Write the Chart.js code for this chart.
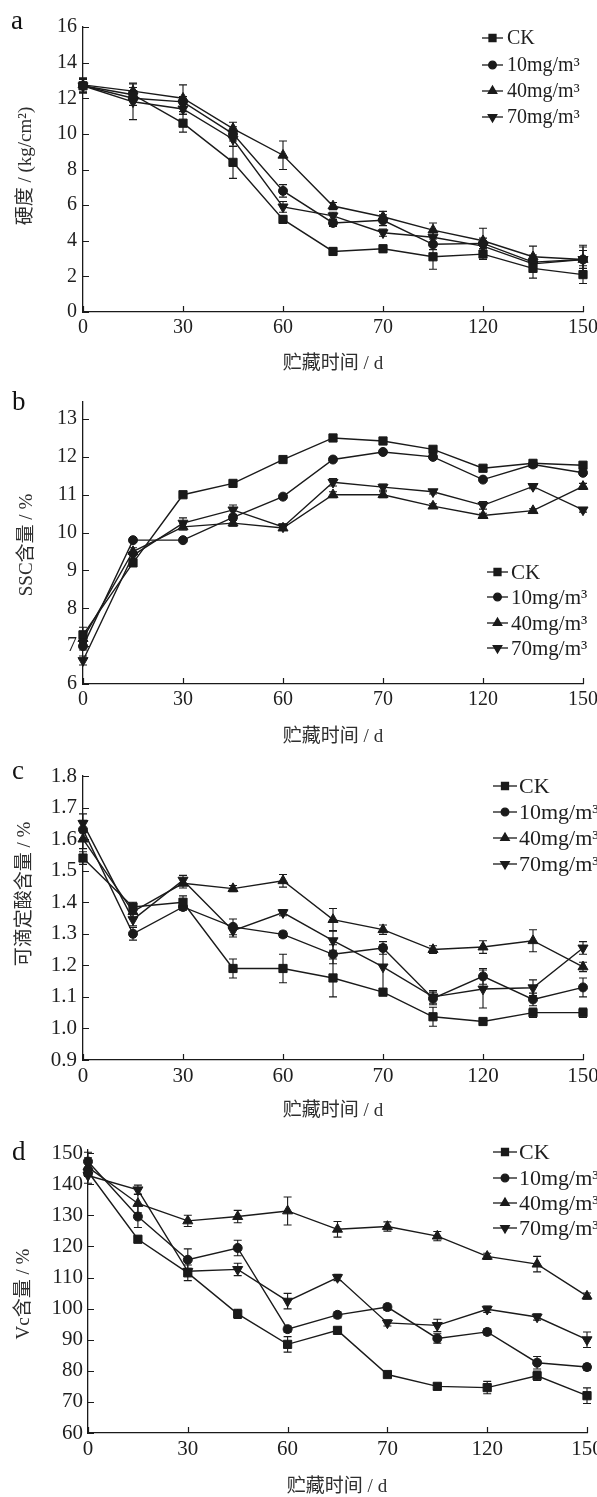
<!DOCTYPE html>
<html>
<head>
<meta charset="utf-8">
<script src="https://cdn.jsdelivr.net/npm/chart.js@4.4.0/dist/chart.umd.min.js"></script>
<style>
html, body { margin: 0; padding: 0; background: #fff; }
#page { position: relative; width: 597px; height: 1497px; overflow: hidden; }
.panel { position: absolute; left: 0; width: 597px; }
.panel canvas { display: block; }
</style>
</head>
<body>
<div id="page">
    <div class="panel" style="top:0px"><canvas id="hardness" width="597" height="380"></canvas></div>
    <div class="panel" style="top:378px"><canvas id="ssc" width="597" height="372"></canvas></div>
    <div class="panel" style="top:750px"><canvas id="acid" width="597" height="372"></canvas></div>
    <div class="panel" style="top:1122px"><canvas id="vc" width="597" height="375"></canvas></div>
</div>
<script>
// storage days (x) and the tick labels printed under the axis
const days = [0, 15, 30, 45, 60, 75, 90, 105, 120, 135, 150];
const xTickValues = [0, 30, 60, 90, 120, 150];
const xTickLabels = ['0', '30', '60', '70', '120', '150'];

const seriesNames = ['CK', '10mg/m³', '40mg/m³', '70mg/m³'];

// a - hardness
const hardnessCK = [12.7, 12.2, 10.6, 8.4, 5.2, 3.4, 3.55, 3.1, 3.25, 2.45, 2.1];
const hardness10 = [12.7, 12.0, 11.8, 10.0, 6.8, 5.0, 5.15, 3.8, 3.85, 2.8, 2.95];
const hardness40 = [12.75, 12.4, 12.0, 10.3, 8.8, 5.95, 5.35, 4.6, 4.0, 3.1, 2.95];
const hardness70 = [12.7, 11.8, 11.4, 9.7, 5.9, 5.4, 4.45, 4.2, 3.7, 2.7, 2.95];
const hardnessCKErr = [0.4, 0.4, 0.5, 0.9, 0.2, 0.2, 0.2, 0.7, 0.3, 0.55, 0.5];
const hardness10Err = [0.35, 0.4, 0.3, 0.4, 0.35, 0.2, 0.3, 0.3, 0.3, 0.4, 0.7];
const hardness40Err = [0.4, 0.45, 0.75, 0.35, 0.8, 0.2, 0.3, 0.4, 0.7, 0.6, 0.8];
const hardness70Err = [0.4, 1.0, 0.3, 0.4, 0.3, 0.2, 0.2, 0.3, 0.3, 0.4, 0.5];
const hardnessTicks = [0, 2, 4, 6, 8, 10, 12, 14, 16];

// b - SSC
const sscCK = [7.3, 9.2, 11.0, 11.3, 11.93, 12.5, 12.42, 12.2, 11.7, 11.83, 11.78];
const ssc10 = [7.0, 9.8, 9.8, 10.4, 10.95, 11.93, 12.13, 12.0, 11.4, 11.8, 11.58];
const ssc40 = [7.2, 9.5, 10.15, 10.25, 10.12, 11.0, 11.0, 10.7, 10.45, 10.58, 11.22];
const ssc70 = [6.62, 9.4, 10.25, 10.6, 10.15, 11.33, 11.2, 11.08, 10.72, 11.22, 10.6];
const sscCKErr = [0.2, 0.08, 0.05, 0.05, 0.06, 0.05, 0.05, 0.05, 0.05, 0.05, 0.05];
const ssc10Err = [0.1, 0.06, 0.05, 0.08, 0.05, 0.05, 0.05, 0.06, 0.05, 0.05, 0.06];
const ssc40Err = [0.12, 0.1, 0.08, 0.08, 0.06, 0.08, 0.08, 0.06, 0.06, 0.05, 0.08];
const ssc70Err = [0.12, 0.1, 0.14, 0.13, 0.08, 0.1, 0.08, 0.06, 0.1, 0.06, 0.06];
const sscTicks = [6, 7, 8, 9, 10, 11, 12, 13];

// c - titratable acid
const acidCK = [1.54, 1.385, 1.40, 1.19, 1.19, 1.16, 1.115, 1.037, 1.022, 1.05, 1.05];
const acid10 = [1.63, 1.30, 1.385, 1.322, 1.298, 1.235, 1.255, 1.095, 1.165, 1.092, 1.13];
const acid40 = [1.60, 1.37, 1.46, 1.443, 1.468, 1.345, 1.313, 1.25, 1.258, 1.278, 1.195];
const acid70 = [1.65, 1.345, 1.47, 1.31, 1.367, 1.278, 1.195, 1.10, 1.125, 1.129, 1.255];
const acidCKErr = [0.02, 0.015, 0.02, 0.03, 0.045, 0.06, 0.01, 0.03, 0.01, 0.015, 0.015];
const acid10Err = [0.03, 0.02, 0.01, 0.025, 0.01, 0.03, 0.02, 0.02, 0.025, 0.02, 0.03];
const acid40Err = [0.03, 0.02, 0.015, 0.01, 0.02, 0.035, 0.015, 0.012, 0.02, 0.035, 0.015];
const acid70Err = [0.03, 0.02, 0.015, 0.02, 0.01, 0.03, 0.07, 0.02, 0.06, 0.025, 0.02];
const acidTicks = [0.9, 1.0, 1.1, 1.2, 1.3, 1.4, 1.5, 1.6, 1.7, 1.8];

// d - Vc
const vcCK = [144, 122.3, 111.5, 98.3, 88.5, 93.0, 78.8, 75.0, 74.6, 78.4, 72.0];
const vc10 = [147.3, 129.6, 115.7, 119.5, 93.4, 98.0, 100.5, 90.4, 92.5, 82.6, 81.2];
const vc40 = [145.5, 133.8, 128.2, 129.6, 131.4, 125.5, 126.4, 123.3, 116.8, 114.3, 104.0];
const vc70 = [142.8, 138.2, 112.0, 112.6, 102.4, 110.0, 95.4, 94.6, 99.8, 97.3, 90.0];
const vcCKErr = [1.5, 1.0, 2.5, 1.5, 2.5, 1.0, 0.8, 1.0, 2.0, 1.5, 2.5];
const vc10Err = [3.0, 3.5, 3.5, 2.5, 1.0, 1.0, 1.0, 1.5, 1.0, 2.0, 1.0];
const vc40Err = [3.0, 3.0, 1.8, 2.0, 4.5, 2.5, 1.5, 1.5, 1.0, 2.5, 1.0];
const vc70Err = [2.5, 1.5, 1.0, 2.0, 2.5, 1.0, 1.0, 2.0, 1.0, 1.0, 2.5];
const vcTicks = [60, 70, 80, 90, 100, 110, 120, 130, 140, 150];

const INK = '#1a1a1a';
const LATIN = '"Liberation Serif", "Times New Roman", serif';
const MIXED = '"Liberation Serif", "Noto Sans CJK SC", serif';
const markers = [
    { pointStyle: 'rect', radius: 5.8, rotation: 0 },
    { pointStyle: 'circle', radius: 4.5, rotation: 0 },
    { pointStyle: 'triangle', radius: 5.8, rotation: 0 },
    { pointStyle: 'triangle', radius: 5.8, rotation: 180 }
];

// error bars, inward ticks, legend, titles and panel letter
const panelDecor = {
    id: 'panelDecor',
    beforeDatasetsDraw(chart, args, opts) {
        const { ctx } = chart;
        const x = chart.scales.x, y = chart.scales.y;
        ctx.save();
        ctx.strokeStyle = INK;
        ctx.lineWidth = 1.1;
        chart.data.datasets.forEach((ds, i) => {
            const errs = opts.errors[i];
            ds.data.forEach((pt, j) => {
                const e = errs[j];
                if (!e) return;
                const px = x.getPixelForValue(pt.x);
                const top = y.getPixelForValue(pt.y + e);
                const bot = y.getPixelForValue(pt.y - e);
                ctx.beginPath();
                ctx.moveTo(px, top); ctx.lineTo(px, bot);
                ctx.moveTo(px - 4, top); ctx.lineTo(px + 4, top);
                ctx.moveTo(px - 4, bot); ctx.lineTo(px + 4, bot);
                ctx.stroke();
            });
        });
        ctx.restore();
    },
    afterDraw(chart, args, opts) {
        const { ctx, chartArea } = chart;
        const x = chart.scales.x, y = chart.scales.y;
        ctx.save();
        // inward tick marks
        ctx.strokeStyle = INK;
        ctx.lineWidth = 1.2;
        ctx.beginPath();
        x.ticks.forEach(t => {
            const px = Math.round(x.getPixelForValue(t.value)) + 0.5;
            ctx.moveTo(px, chartArea.bottom);
            ctx.lineTo(px, chartArea.bottom - 6);
        });
        y.ticks.forEach(t => {
            const py = Math.round(y.getPixelForValue(t.value)) + 0.5;
            ctx.moveTo(chartArea.left, py);
            ctx.lineTo(chartArea.left + 6, py);
        });
        ctx.stroke();

        // legend: line sample with marker, then label
        const lg = opts.legend;
        chart.data.datasets.forEach((ds, i) => {
            const ly = lg.rows[i];
            ctx.strokeStyle = INK;
            ctx.fillStyle = INK;
            ctx.lineWidth = 1.3;
            ctx.beginPath();
            ctx.moveTo(lg.x0, ly);
            ctx.lineTo(lg.x1, ly);
            ctx.stroke();
            const m = markers[i];
            Chart.helpers.drawPoint(ctx, {
                pointStyle: m.pointStyle,
                radius: m.radius * 0.85,
                rotation: m.rotation,
                borderWidth: 1
            }, (lg.x0 + lg.x1) / 2, ly);
            ctx.fillStyle = '#1e1e1e';
            ctx.font = lg.size + 'px ' + LATIN;
            ctx.textAlign = 'left';
            ctx.textBaseline = 'middle';
            ctx.fillText(ds.label, lg.textX, ly + 1);
        });

        // axis titles
        ctx.fillStyle = '#2e2e2e';
        ctx.font = '19px ' + MIXED;
        ctx.textAlign = 'center';
        ctx.textBaseline = 'middle';
        ctx.fillText(opts.xTitle.text, opts.xTitle.x, opts.xTitle.y);
        ctx.save();
        ctx.translate(opts.yTitle.x, opts.yTitle.y);
        ctx.rotate(-Math.PI / 2);
        ctx.fillText(opts.yTitle.text, 0, 0);
        ctx.restore();

        // panel letter
        ctx.fillStyle = '#111';
        ctx.font = '27px ' + LATIN;
        ctx.textAlign = 'left';
        ctx.textBaseline = 'alphabetic';
        ctx.fillText(opts.letter.text, opts.letter.x, opts.letter.y);
        ctx.restore();
    }
};

function buildPanel(cfg) {
    const canvas = document.getElementById(cfg.id);
    const H = canvas.height;
    const top = cfg.pageTop;
    const datasets = cfg.values.map((vals, i) => ({
        label: seriesNames[i],
        data: days.map((d, j) => ({ x: d, y: vals[j] })),
        borderColor: INK,
        backgroundColor: INK,
        borderWidth: 1.4,
        pointStyle: markers[i].pointStyle,
        pointRadius: markers[i].radius,
        pointRotation: markers[i].rotation,
        pointBorderWidth: 1,
        pointBackgroundColor: INK,
        pointBorderColor: INK,
        tension: 0,
        clip: false
    }));

    const fmt = cfg.decimals ? (v => Number(v).toFixed(cfg.decimals)) : (v => String(v));

    return new Chart(canvas, {
        type: 'line',
        data: { datasets },
        options: {
            responsive: false,
            animation: false,
            events: [],
            layout: {
                padding: { top: cfg.area.top - top, right: 597 - cfg.area.right, bottom: 0, left: 0 }
            },
            plugins: {
                legend: { display: false },
                tooltip: { enabled: false },
                panelDecor: {
                    errors: cfg.errors,
                    legend: {
                        x0: cfg.legend.x0, x1: cfg.legend.x1, textX: cfg.legend.textX,
                        size: cfg.legend.size,
                        rows: cfg.legend.rows.map(r => r - top)
                    },
                    xTitle: { text: '贮藏时间 / d', x: cfg.xTitle[0], y: cfg.xTitle[1] - top },
                    yTitle: { text: cfg.yTitleText, x: cfg.yTitle[0], y: cfg.yTitle[1] - top },
                    letter: { text: cfg.letter[0], x: cfg.letter[1], y: cfg.letter[2] - top }
                }
            },
            scales: {
                x: {
                    type: 'linear',
                    min: 0,
                    max: 150,
                    offset: false,
                    grid: { drawOnChartArea: false, drawTicks: false },
                    border: { display: true, color: INK, width: 1.3 },
                    ticks: {
                        color: '#1e1e1e',
                        font: { family: LATIN, size: cfg.tickSize },
                        padding: 4,
                        autoSkip: false,
                        maxRotation: 0,
                        callback: (value, index) => xTickLabels[index]
                    },
                    afterBuildTicks: scale => {
                        scale.ticks = xTickValues.map(v => ({ value: v }));
                    },
                    afterFit: scale => {
                        scale.height = H - (cfg.area.bottom - top);
                        scale.paddingLeft = 0;
                        scale.paddingRight = 0;
                    }
                },
                y: {
                    type: 'linear',
                    min: cfg.yMin,
                    max: cfg.yMax,
                    grid: { drawOnChartArea: false, drawTicks: false },
                    border: { display: true, color: INK, width: 1.3 },
                    ticks: {
                        color: '#1e1e1e',
                        font: { family: LATIN, size: cfg.tickSize },
                        padding: cfg.tickPad,
                        autoSkip: false,
                        callback: value => fmt(value)
                    },
                    afterBuildTicks: scale => {
                        scale.ticks = cfg.yTicks.map(v => ({ value: v }));
                    },
                    afterFit: scale => {
                        scale.width = cfg.area.left;
                        scale.paddingTop = 0;
                        scale.paddingBottom = 0;
                    }
                }
            }
        },
        plugins: [panelDecor]
    });
}

document.addEventListener('DOMContentLoaded', () => {
    buildPanel({
        id: 'hardness', pageTop: 0,
        area: { left: 83, right: 583, top: 27, bottom: 312 },
        yMin: 0, yMax: 16, yTicks: hardnessTicks, decimals: 0, tickPad: 6, tickSize: 20,
        values: [hardnessCK, hardness10, hardness40, hardness70],
        errors: [hardnessCKErr, hardness10Err, hardness40Err, hardness70Err],
        legend: { x0: 482, x1: 503, textX: 507, size: 20, rows: [38, 65, 91, 117] },
        xTitle: [333, 364], yTitle: [26, 166], yTitleText: '硬度 / (kg/cm²)',
        letter: ['a', 11, 29]
    });
    buildPanel({
        id: 'ssc', pageTop: 378,
        area: { left: 83, right: 583, top: 402, bottom: 684 },
        yMin: 6, yMax: 13.45, yTicks: sscTicks, decimals: 0, tickPad: 6, tickSize: 20,
        values: [sscCK, ssc10, ssc40, ssc70],
        errors: [sscCKErr, ssc10Err, ssc40Err, ssc70Err],
        legend: { x0: 487, x1: 508, textX: 511, size: 21, rows: [572, 597, 623, 648] },
        xTitle: [333, 737], yTitle: [27, 545], yTitleText: 'SSC含量 / %',
        letter: ['b', 12, 410]
    });
    buildPanel({
        id: 'acid', pageTop: 750,
        area: { left: 83, right: 583, top: 776, bottom: 1060 },
        yMin: 0.9, yMax: 1.8, yTicks: acidTicks, decimals: 1, tickPad: 6, tickSize: 21,
        values: [acidCK, acid10, acid40, acid70],
        errors: [acidCKErr, acid10Err, acid40Err, acid70Err],
        legend: { x0: 493, x1: 517, textX: 519, size: 22, rows: [786, 812, 838, 864] },
        xTitle: [333, 1111], yTitle: [25, 894], yTitleText: '可滴定酸含量 / %',
        letter: ['c', 12, 779]
    });
    buildPanel({
        id: 'vc', pageTop: 1122,
        area: { left: 88, right: 587, top: 1150, bottom: 1433 },
        yMin: 60, yMax: 151, yTicks: vcTicks, decimals: 0, tickPad: 5, tickSize: 21,
        values: [vcCK, vc10, vc40, vc70],
        errors: [vcCKErr, vc10Err, vc40Err, vc70Err],
        legend: { x0: 493, x1: 517, textX: 519, size: 22, rows: [1152, 1178, 1203, 1228] },
        xTitle: [337, 1487], yTitle: [24, 1294], yTitleText: 'Vc含量 / %',
        letter: ['d', 12, 1160]
    });
});
</script>
</body>
</html>
